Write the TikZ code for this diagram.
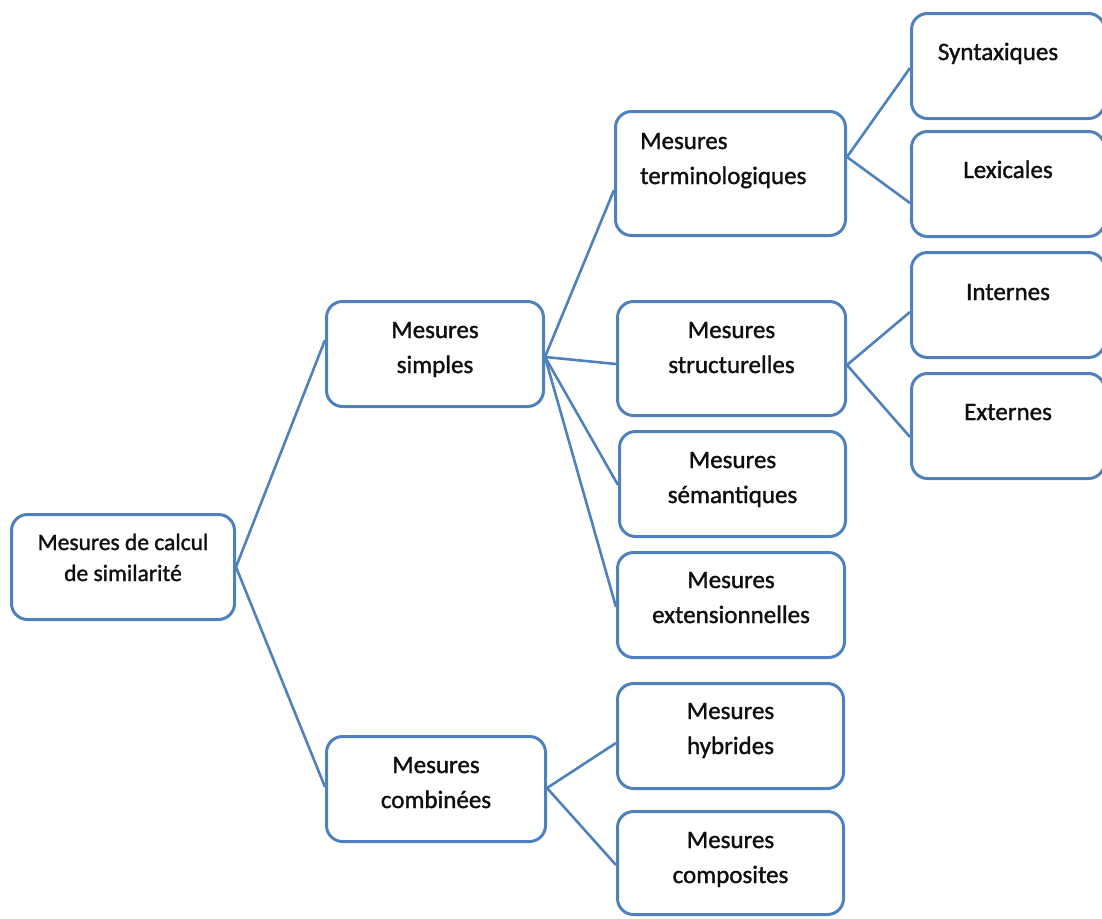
\documentclass[tikz,border=0pt]{standalone}
\usepackage{fontspec}
\setmainfont{Carlito}
\newfontfamily\boxfont{Carlito}[FakeBold=1.3]
\definecolor{frameblue}{RGB}{79,129,189}
\definecolor{inktext}{RGB}{15,15,15}
\tikzset{
  box/.style={draw=frameblue, line width=3pt, rounded corners=16pt, fill=white,
              inner sep=0pt, minimum height=105pt},
  txt/.style={anchor=base, align=center, text=inktext, inner sep=0pt,
              font=\boxfont\fontsize{25}{35}\selectfont},
  roottxt/.style={txt, font=\boxfont\fontsize{23.5}{31}\selectfont},
  link/.style={draw=frameblue, line width=2.6pt},
}
\begin{document}
\begin{tikzpicture}[x=1pt, y=-1pt]
\useasboundingbox (0,0) rectangle (1102,918);

% boxes of the hierarchy
\node[box, minimum width=223pt] (root) at (123,567) {};
\node[box, minimum width=217pt] (simples) at (435,354) {};
\node[box, minimum width=219pt] (comb) at (436,789) {};
\node[box, minimum width=230pt, minimum height=124pt] (term) at (730.5,173.5) {};
\node[box, minimum width=228pt, minimum height=114pt] (struct) at (731.5,358.5) {};
\node[box, minimum width=226pt] (sem) at (732.5,484) {};
\node[box, minimum width=227pt] (ext) at (731,605) {};
\node[box, minimum width=226pt] (hyb) at (730.5,736) {};
\node[box, minimum width=226pt, minimum height=103pt] (comp) at (730.5,863) {};
\node[box, minimum width=193pt] (synt) at (1008,66) {};
\node[box, minimum width=193pt] (lex) at (1008,184) {};
\node[box, minimum width=193pt] (int) at (1008,305) {};
\node[box, minimum width=193pt] (extn) at (1008,426) {};

% labels (base anchor = baseline of the last line)
\node[roottxt] (root-t) at (123,581) {Mesures de calcul\\de similarité};
\node[txt] (simples-t) at (435,373) {Mesures\\simples};
\node[txt] (comb-t) at (436,808) {Mesures\\combinées};
\node[txt, anchor=base west, align=left] (term-t) at (640,184) {Mesures\\terminologiques};
\node[txt] (struct-t) at (731.5,373) {Mesures\\structurelles};
\node[txt] (sem-t) at (732.5,503) {Mesures\\sémantiques};
\node[txt] (ext-t) at (731,623) {Mesures\\extensionnelles};
\node[txt] (hyb-t) at (730.5,754) {Mesures\\hybrides};
\node[txt] (comp-t) at (730.5,883) {Mesures\\composites};
\node[txt] (synt-t) at (998,60) {Syntaxiques};
\node[txt] (lex-t) at (1008,178) {Lexicales};
\node[txt] (int-t) at (1008,300) {Internes};
\node[txt] (extn-t) at (1008,420) {Externes};

% connectors
\draw[link] (root.east) -- ([yshift=14pt]simples.west);
\draw[link] (root.east) -- ([yshift=2pt]comb.west);
\draw[link] ([yshift=-3pt]simples.east) -- ([yshift=-16.5pt]term.west);
\draw[link] ([yshift=-3pt]simples.east) -- ([yshift=-5.5pt]struct.west);
\draw[link] ([yshift=-3pt]simples.east) -- ([yshift=-1pt]sem.west);
\draw[link] ([yshift=-3pt]simples.east) -- ([yshift=-2pt]ext.west);
\draw[link] ([yshift=1pt]comb.east) -- ([yshift=-7pt]hyb.west);
\draw[link] ([yshift=1pt]comb.east) -- ([yshift=-2pt]comp.west);
\draw[link] ([yshift=16.5pt]term.east) -- ([yshift=-2pt]synt.west);
\draw[link] ([yshift=16.5pt]term.east) -- ([yshift=-19pt]lex.west);
\draw[link] ([yshift=-6.5pt]struct.east) -- ([yshift=-7pt]int.west);
\draw[link] ([yshift=-6.5pt]struct.east) -- ([yshift=-11pt]extn.west);
\end{tikzpicture}
\end{document}
